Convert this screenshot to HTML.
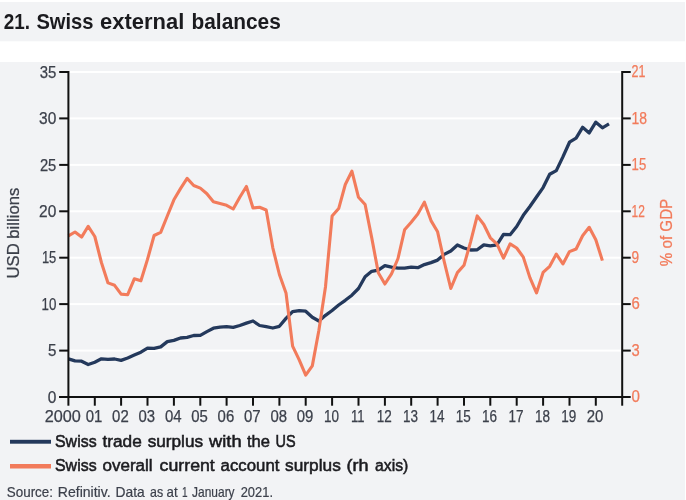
<!DOCTYPE html>
<html><head><meta charset="utf-8"><title>21. Swiss external balances</title>
<style>
html,body{margin:0;padding:0;background:#fff;}
body{width:686px;height:500px;overflow:hidden;position:relative;font-family:"Liberation Sans",sans-serif;}
svg{position:absolute;left:0;top:0;display:block;}
text{font-family:"Liberation Sans",sans-serif;}
</style></head><body>
<svg width="686" height="500" viewBox="0 0 686 500">
<rect x="0" y="0" width="686" height="500" fill="#fff"/>
<rect x="0" y="2" width="685" height="39.3" fill="#f2f3f5"/>
<rect x="0" y="62" width="685" height="438" fill="#f2f3f5"/>
<text y="28.7" font-size="21.8" fill="#1b1b1f" font-weight="bold"><tspan x="3.7" textLength="26.3" lengthAdjust="spacingAndGlyphs">21.</tspan> <tspan x="36.4" textLength="57.1" lengthAdjust="spacingAndGlyphs">Swiss</tspan> <tspan x="100" textLength="84.3" lengthAdjust="spacingAndGlyphs">external</tspan> <tspan x="191.5" textLength="89.3" lengthAdjust="spacingAndGlyphs">balances</tspan></text>

<g>
<rect x="69.4" y="349.6" width="552" height="2" fill="#fff"/>
<rect x="69.4" y="303.1" width="552" height="2" fill="#fff"/>
<rect x="69.4" y="256.7" width="552" height="2" fill="#fff"/>
<rect x="69.4" y="210.3" width="552" height="2" fill="#fff"/>
<rect x="69.4" y="163.9" width="552" height="2" fill="#fff"/>
<rect x="69.4" y="117.4" width="552" height="2" fill="#fff"/>
<rect x="69.4" y="71.0" width="552" height="2" fill="#fff"/>
</g>
<polyline fill="none" stroke="#24395c" stroke-width="3.3" stroke-linejoin="round" stroke-linecap="butt" points="68.4,358.8 75.0,360.8 81.6,361.2 88.2,364.5 94.8,362.2 101.4,358.8 108.0,359.4 114.6,359.0 121.1,360.4 127.7,358.0 134.3,355.1 140.9,352.2 147.5,348.2 154.1,348.4 160.7,346.9 167.3,341.6 173.9,340.4 180.5,338.0 187.1,337.3 193.7,335.5 200.3,335.4 206.9,331.6 213.4,328.2 220.0,327.1 226.6,326.7 233.2,327.3 239.8,325.5 246.4,323.1 253.0,321.0 259.6,325.5 266.2,326.7 272.8,328.0 279.4,326.3 286.0,318.4 292.6,311.6 299.2,310.6 305.7,311.2 312.3,317.3 318.9,321.0 325.5,315.3 332.1,310.5 338.7,305.0 345.3,300.3 351.9,295.2 358.5,288.5 365.1,276.8 371.7,271.3 378.3,270.1 384.9,265.6 391.5,267.2 398.0,268.1 404.6,268.1 411.2,267.2 417.8,267.7 424.4,264.6 431.0,262.6 437.6,260.1 444.2,254.4 450.8,251.0 457.4,245.0 464.0,248.0 470.6,250.0 477.2,249.8 483.8,244.9 490.3,245.9 496.9,244.9 503.5,234.3 510.1,234.7 516.7,226.5 523.3,215.3 529.9,206.5 536.5,197.0 543.1,187.6 549.7,174.3 556.3,170.6 562.9,156.9 569.5,142.2 576.1,138.2 582.6,127.3 589.2,132.9 595.8,122.2 602.4,127.8 609.0,123.9"/>
<polyline fill="none" stroke="#f27b5b" stroke-width="3.1" stroke-linejoin="round" stroke-linecap="butt" points="68.4,235.9 75.0,232.0 81.6,237.1 88.2,226.3 94.8,236.5 101.4,262.5 108.0,282.9 114.6,285.3 121.1,294.1 127.7,294.7 134.3,278.8 140.9,280.8 147.5,259.4 154.1,235.5 160.7,232.4 167.3,216.0 173.9,199.8 180.5,188.6 187.1,178.4 193.7,185.5 200.3,188.1 206.9,193.7 213.4,201.8 220.0,203.5 226.6,205.3 233.2,209.0 239.8,197.3 246.4,186.5 253.0,208.0 259.6,207.3 266.2,210.0 272.8,247.8 279.4,274.5 286.0,292.9 292.6,346.1 299.2,359.8 305.7,375.1 312.3,365.9 318.9,330.2 325.5,286.7 332.1,216.1 338.7,208.6 345.3,184.5 351.9,171.2 358.5,197.3 365.1,204.5 371.7,237.6 378.3,272.8 384.9,284.0 391.5,273.8 398.0,258.5 404.6,229.8 411.2,222.2 417.8,214.1 424.4,202.2 431.0,220.6 437.6,231.8 444.2,261.5 450.8,288.5 457.4,272.6 464.0,265.3 470.6,241.8 477.2,215.9 483.8,224.5 490.3,237.8 496.9,243.9 503.5,258.2 510.1,243.9 516.7,248.0 523.3,257.1 529.9,277.6 536.5,292.9 543.1,272.4 549.7,266.3 556.3,254.1 562.9,263.9 569.5,251.6 576.1,249.0 582.6,235.7 589.2,227.3 595.8,239.8 602.4,260.6"/>
<g>
<rect x="67.4" y="71" width="2" height="327" fill="#111"/>
<rect x="621.2" y="71" width="2" height="327" fill="#111"/>
<rect x="59.2" y="396" width="564" height="2" fill="#111"/>
<rect x="59.2" y="396.0" width="9" height="2" fill="#111"/>
<rect x="59.2" y="349.6" width="9" height="2" fill="#111"/>
<rect x="59.2" y="303.1" width="9" height="2" fill="#111"/>
<rect x="59.2" y="256.7" width="9" height="2" fill="#111"/>
<rect x="59.2" y="210.3" width="9" height="2" fill="#111"/>
<rect x="59.2" y="163.9" width="9" height="2" fill="#111"/>
<rect x="59.2" y="117.4" width="9" height="2" fill="#111"/>
<rect x="59.2" y="71.0" width="9" height="2" fill="#111"/>
<rect x="622" y="396.0" width="8.7" height="2" fill="#111"/>
<rect x="622" y="349.6" width="8.7" height="2" fill="#111"/>
<rect x="622" y="303.1" width="8.7" height="2" fill="#111"/>
<rect x="622" y="256.7" width="8.7" height="2" fill="#111"/>
<rect x="622" y="210.3" width="8.7" height="2" fill="#111"/>
<rect x="622" y="163.9" width="8.7" height="2" fill="#111"/>
<rect x="622" y="117.4" width="8.7" height="2" fill="#111"/>
<rect x="622" y="71.0" width="8.7" height="2" fill="#111"/>
<rect x="67.4" y="397" width="2" height="8.7" fill="#111"/>
<rect x="93.8" y="397" width="2" height="8.7" fill="#111"/>
<rect x="120.1" y="397" width="2" height="8.7" fill="#111"/>
<rect x="146.5" y="397" width="2" height="8.7" fill="#111"/>
<rect x="172.9" y="397" width="2" height="8.7" fill="#111"/>
<rect x="199.3" y="397" width="2" height="8.7" fill="#111"/>
<rect x="225.6" y="397" width="2" height="8.7" fill="#111"/>
<rect x="252.0" y="397" width="2" height="8.7" fill="#111"/>
<rect x="278.4" y="397" width="2" height="8.7" fill="#111"/>
<rect x="304.7" y="397" width="2" height="8.7" fill="#111"/>
<rect x="331.1" y="397" width="2" height="8.7" fill="#111"/>
<rect x="357.5" y="397" width="2" height="8.7" fill="#111"/>
<rect x="383.9" y="397" width="2" height="8.7" fill="#111"/>
<rect x="410.2" y="397" width="2" height="8.7" fill="#111"/>
<rect x="436.6" y="397" width="2" height="8.7" fill="#111"/>
<rect x="463.0" y="397" width="2" height="8.7" fill="#111"/>
<rect x="489.3" y="397" width="2" height="8.7" fill="#111"/>
<rect x="515.7" y="397" width="2" height="8.7" fill="#111"/>
<rect x="542.1" y="397" width="2" height="8.7" fill="#111"/>
<rect x="568.5" y="397" width="2" height="8.7" fill="#111"/>
<rect x="594.8" y="397" width="2" height="8.7" fill="#111"/>
<rect x="621.2" y="397" width="2" height="8.7" fill="#111"/>
</g>
<g font-size="16" fill="#3c404b" stroke="#3c404b" stroke-width="0.25">
<text x="47.7" y="402.7" textLength="8.6" lengthAdjust="spacingAndGlyphs">0</text>
<text x="47.9" y="356.3" textLength="8.4" lengthAdjust="spacingAndGlyphs">5</text>
<text x="41.5" y="309.8" textLength="14.8" lengthAdjust="spacingAndGlyphs">10</text>
<text x="41.9" y="263.4" textLength="14.4" lengthAdjust="spacingAndGlyphs">15</text>
<text x="39.1" y="217.0" textLength="17.2" lengthAdjust="spacingAndGlyphs">20</text>
<text x="39.9" y="170.6" textLength="16.4" lengthAdjust="spacingAndGlyphs">25</text>
<text x="39.1" y="124.1" textLength="17.2" lengthAdjust="spacingAndGlyphs">30</text>
<text x="39.7" y="77.7" textLength="16.6" lengthAdjust="spacingAndGlyphs">35</text>
<text x="44.8" y="421.7" textLength="36.1" lengthAdjust="spacingAndGlyphs">2000</text>
<text x="85.8" y="421.7" textLength="16.6" lengthAdjust="spacingAndGlyphs">01</text>
<text x="112.1" y="421.7" textLength="16.6" lengthAdjust="spacingAndGlyphs">02</text>
<text x="138.5" y="421.7" textLength="16.6" lengthAdjust="spacingAndGlyphs">03</text>
<text x="164.9" y="421.7" textLength="16.6" lengthAdjust="spacingAndGlyphs">04</text>
<text x="191.3" y="421.7" textLength="16.6" lengthAdjust="spacingAndGlyphs">05</text>
<text x="217.6" y="421.7" textLength="16.6" lengthAdjust="spacingAndGlyphs">06</text>
<text x="244.0" y="421.7" textLength="16.6" lengthAdjust="spacingAndGlyphs">07</text>
<text x="270.4" y="421.7" textLength="16.6" lengthAdjust="spacingAndGlyphs">08</text>
<text x="296.7" y="421.7" textLength="16.6" lengthAdjust="spacingAndGlyphs">09</text>
<text x="323.9" y="421.7" textLength="15.0" lengthAdjust="spacingAndGlyphs">10</text>
<text x="351.0" y="421.7" textLength="13.5" lengthAdjust="spacingAndGlyphs">11</text>
<text x="376.7" y="421.7" textLength="15.0" lengthAdjust="spacingAndGlyphs">12</text>
<text x="403.0" y="421.7" textLength="15.0" lengthAdjust="spacingAndGlyphs">13</text>
<text x="429.4" y="421.7" textLength="15.0" lengthAdjust="spacingAndGlyphs">14</text>
<text x="455.8" y="421.7" textLength="15.0" lengthAdjust="spacingAndGlyphs">15</text>
<text x="482.1" y="421.7" textLength="15.0" lengthAdjust="spacingAndGlyphs">16</text>
<text x="508.5" y="421.7" textLength="15.0" lengthAdjust="spacingAndGlyphs">17</text>
<text x="534.9" y="421.7" textLength="15.0" lengthAdjust="spacingAndGlyphs">18</text>
<text x="561.3" y="421.7" textLength="15.0" lengthAdjust="spacingAndGlyphs">19</text>
<text x="586.8" y="421.7" textLength="16.6" lengthAdjust="spacingAndGlyphs">20</text>
</g>
<g font-size="16" fill="#f27b5b" stroke="#f27b5b" stroke-width="0.25">
<text x="631.6" y="402.3" textLength="8.4" lengthAdjust="spacingAndGlyphs">0</text>
<text x="631.6" y="355.9" textLength="8.2" lengthAdjust="spacingAndGlyphs">3</text>
<text x="631.6" y="309.4" textLength="8.3" lengthAdjust="spacingAndGlyphs">6</text>
<text x="631.6" y="263.0" textLength="7.6" lengthAdjust="spacingAndGlyphs">9</text>
<text x="631.6" y="216.6" textLength="13.3" lengthAdjust="spacingAndGlyphs">12</text>
<text x="631.6" y="170.2" textLength="14.6" lengthAdjust="spacingAndGlyphs">15</text>
<text x="631.6" y="123.7" textLength="15.5" lengthAdjust="spacingAndGlyphs">18</text>
<text x="631.6" y="77.3" textLength="13.9" lengthAdjust="spacingAndGlyphs">21</text>
</g>
<text transform="translate(19.4,233.1) rotate(-90)" font-size="17.2" fill="#3c404b" stroke="#3c404b" stroke-width="0.25" text-anchor="middle" textLength="90.8" lengthAdjust="spacingAndGlyphs">USD billions</text>
<text transform="translate(671.6,232.5) rotate(-90)" font-size="17.2" fill="#f27b5b" stroke="#f27b5b" stroke-width="0.25" text-anchor="middle" textLength="67.5" lengthAdjust="spacingAndGlyphs">% of GDP</text>
<rect x="10" y="439.8" width="41" height="3.9" fill="#24395c"/>
<rect x="10" y="464" width="41" height="4.5" fill="#f27b5b"/>
<g stroke="#1b1b1f" stroke-width="0.55">
<text y="447.1" font-size="17.4" fill="#1b1b1f" ><tspan x="55.0" textLength="41.6" lengthAdjust="spacingAndGlyphs">Swiss</tspan> <tspan x="102.5" textLength="39.3" lengthAdjust="spacingAndGlyphs">trade</tspan> <tspan x="147.7" textLength="55.4" lengthAdjust="spacingAndGlyphs">surplus</tspan> <tspan x="209.1" textLength="32.5" lengthAdjust="spacingAndGlyphs">with</tspan> <tspan x="247" textLength="23.0" lengthAdjust="spacingAndGlyphs">the</tspan> <tspan x="275.6" textLength="20.1" lengthAdjust="spacingAndGlyphs">US</tspan></text>
<text y="471.2" font-size="17.4" fill="#1b1b1f" ><tspan x="55.0" textLength="41.6" lengthAdjust="spacingAndGlyphs">Swiss</tspan> <tspan x="102.5" textLength="50.1" lengthAdjust="spacingAndGlyphs">overall</tspan> <tspan x="159.6" textLength="55.2" lengthAdjust="spacingAndGlyphs">current</tspan> <tspan x="220.6" textLength="58.8" lengthAdjust="spacingAndGlyphs">account</tspan> <tspan x="285.1" textLength="55.7" lengthAdjust="spacingAndGlyphs">surplus</tspan> <tspan x="346.5" textLength="22.0" lengthAdjust="spacingAndGlyphs">(rh</tspan> <tspan x="375" textLength="33.3" lengthAdjust="spacingAndGlyphs">axis)</tspan></text>
</g>
<g stroke="#3c404b" stroke-width="0.2">
<text y="496.5" font-size="14.4" fill="#3c404b" ><tspan x="6.8" textLength="46.2" lengthAdjust="spacingAndGlyphs">Source:</tspan> <tspan x="57.8" textLength="52.8" lengthAdjust="spacingAndGlyphs">Refinitiv.</tspan> <tspan x="115.6" textLength="29.2" lengthAdjust="spacingAndGlyphs">Data</tspan> <tspan x="150" textLength="13.1" lengthAdjust="spacingAndGlyphs">as</tspan> <tspan x="166.6" textLength="11.1" lengthAdjust="spacingAndGlyphs">at</tspan> <tspan x="182.0" textLength="5.6" lengthAdjust="spacingAndGlyphs">1</tspan> <tspan x="192.1" textLength="42.5" lengthAdjust="spacingAndGlyphs">January</tspan> <tspan x="240.7" textLength="32.3" lengthAdjust="spacingAndGlyphs">2021.</tspan></text>
</g>
</svg>
</body></html>
